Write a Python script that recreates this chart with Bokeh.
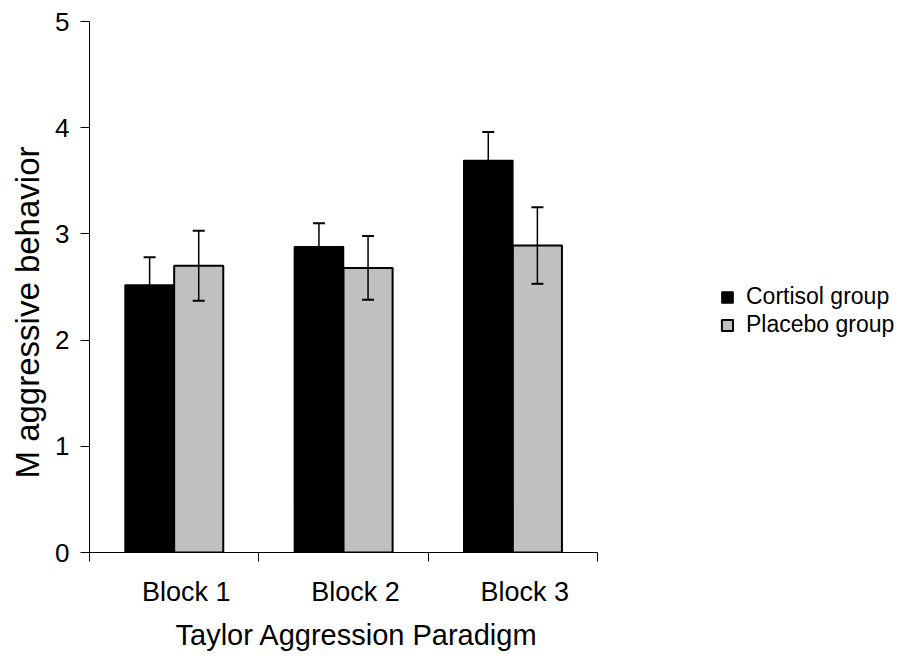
import numpy as np
from bokeh.plotting import figure
from bokeh.models import ColumnDataSource, FixedTicker, Whisker, TeeHead, Title
from bokeh.embed import file_html
from bokeh.resources import INLINE

# ---- data ----
blocks = ["Block 1", "Block 2", "Block 3"]
cortisol = [2.52, 2.88, 3.69]
cortisol_err = [0.26, 0.22, 0.27]
placebo = [2.70, 2.68, 2.89]
placebo_err = [0.33, 0.30, 0.36]
y_ticks = [0, 1, 2, 3, 4, 5]

FONT = "Liberation Sans"

# ---- layout ----
W, H = 899, 657
LEFT, TOP, BOTTOM, RIGHT = 89, 21, 105, 0
axis_px = 508                      # pixel length of the category axis
frame_w = W - LEFT - RIGHT
n = len(blocks)
x_end = n * frame_w / axis_px      # frame extends past the axis (room for legend)
px_per_unit = axis_px / n

idx = np.arange(n)
centers = idx + 0.5
bw = 0.29
off = 0.145
label_shift = 12 / px_per_unit

c_src = ColumnDataSource(dict(
    x=centers - off, top=cortisol,
    upper=np.array(cortisol) + np.array(cortisol_err),
    lower=np.array(cortisol) - np.array(cortisol_err)))
p_src = ColumnDataSource(dict(
    x=centers + off, top=placebo,
    upper=np.array(placebo) + np.array(placebo_err),
    lower=np.array(placebo) - np.array(placebo_err)))

p = figure(width=W, height=H, x_range=(0, x_end), y_range=(0, 5),
           output_backend="svg", toolbar_location=None,
           min_border_left=LEFT, min_border_top=TOP, min_border_bottom=BOTTOM,
           min_border_right=RIGHT)
p.grid.visible = False
p.outline_line_color = None
p.background_fill_color = "white"

p.vbar(x="x", top="top", width=bw, source=c_src, fill_color="black",
       line_color="black", line_width=1.5, legend_label="Cortisol group")
p.vbar(x="x", top="top", width=bw, source=p_src, fill_color="#c0c0c0",
       line_color="black", line_width=2, legend_label="Placebo group")

for src in (c_src, p_src):
    w = Whisker(base="x", upper="upper", lower="lower", source=src,
                line_color="black", line_width=1.5, level="overlay",
                upper_head=TeeHead(size=12, line_width=2, line_color="black"),
                lower_head=TeeHead(size=12, line_width=2, line_color="black"))
    p.add_layout(w)

# y axis
p.yaxis.ticker = FixedTicker(ticks=y_ticks)
p.yaxis.major_tick_out = 9
p.yaxis.major_tick_in = 0
p.yaxis.major_label_standoff = 11
p.yaxis.major_label_text_font = FONT
p.yaxis.major_label_text_font_size = "26px"

# x axis (limited to the categories)
tick_pos = [float(c + label_shift) for c in centers]
p.xaxis.bounds = (0, n)
p.xaxis.ticker = FixedTicker(ticks=tick_pos, minor_ticks=list(np.arange(n + 1)))
p.xaxis.major_label_overrides = {t: b for t, b in zip(tick_pos, blocks)}
p.xaxis.major_tick_out = 0
p.xaxis.major_tick_in = 0
p.xaxis.minor_tick_out = 9
p.xaxis.minor_tick_in = 0
p.xaxis.major_label_standoff = 15
p.xaxis.major_label_text_font = FONT
p.xaxis.major_label_text_font_size = "27px"

for ax in (p.xaxis, p.yaxis):
    ax.axis_line_color = "black"
    ax.major_tick_line_color = "black"
    ax.minor_tick_line_color = "black"
    ax.major_label_text_color = "black"
p.yaxis.minor_tick_line_color = None

# axis titles
xt = Title(text="Taylor Aggression Paradigm", align="left", offset=86,
           text_font=FONT, text_font_size="29px", text_font_style="normal",
           text_color="black", standoff=14)
p.add_layout(xt, "below")
yt = Title(text="M aggressive behavior", align="left", offset=74,
           text_font=FONT, text_font_size="33px", text_font_style="normal",
           text_color="black", standoff=13)
p.add_layout(yt, "left")

lg = p.legend[0]
lg.location = (631, 214)
lg.glyph_width = 14
lg.glyph_height = 14
lg.label_standoff = 12
lg.spacing = 1
lg.padding = 0
lg.margin = 0
lg.border_line_color = None
lg.background_fill_alpha = 0
lg.label_text_font = FONT
lg.label_text_font_size = "23px"
lg.label_text_color = "black"
lg.label_height = 20

open("out.html", "w").write(file_html(p, INLINE))
